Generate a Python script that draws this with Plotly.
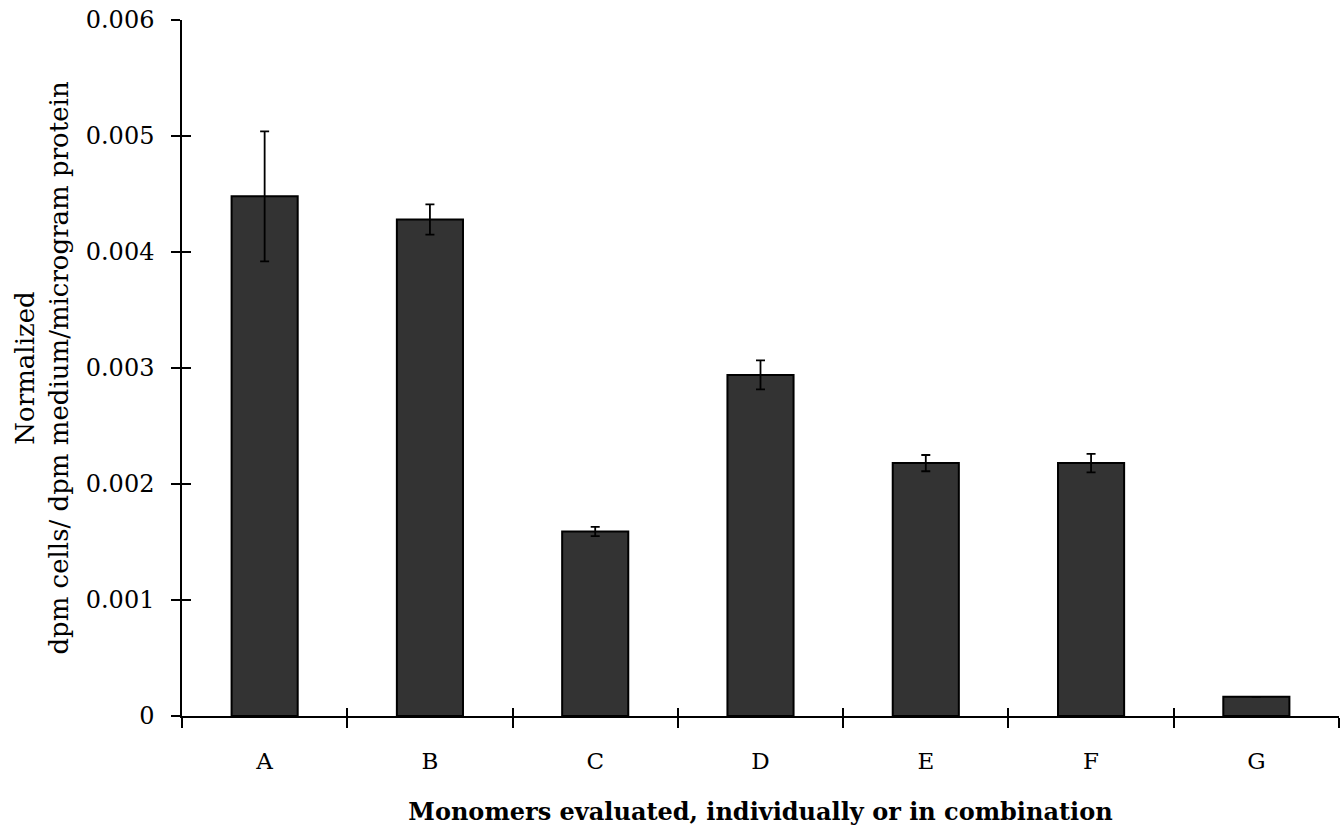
import plotly.graph_objects as go

categories = ["A", "B", "C", "D", "E", "F", "G"]
values = [0.00448, 0.00428, 0.00159, 0.00294, 0.00218, 0.00218, 0.000165]
errors = [0.00056, 0.00013, 0.00004, 0.000125, 0.00007, 0.00008, 0.0]

y_title = "Normalized<br>dpm cells/ dpm medium/microgram protein"
x_title = "<b>Monomers evaluated, individually or in combination</b>"

FONT = "DejaVu Serif"

fig = go.Figure()
fig.add_trace(go.Bar(
    x=categories, y=values, width=0.4,
    marker=dict(color="#333333", line=dict(color="black", width=2)),
    error_y=dict(type="data", array=errors, color="black", thickness=1.8, width=4.5),
    showlegend=False,
))
# invisible duplicate to drive the inward half of the crossing ticks
fig.add_trace(go.Bar(
    x=categories, y=values, width=0.4, xaxis="x2", yaxis="y2",
    marker=dict(color="rgba(0,0,0,0)", line=dict(width=0)),
    hoverinfo="skip", showlegend=False,
))

fig.update_layout(
    template="none",
    width=1342, height=830,
    margin=dict(l=182, r=3, t=20, b=114),
    paper_bgcolor="white", plot_bgcolor="white",
    font=dict(family=FONT, color="black", size=23),
    bargap=0.6,
    xaxis=dict(
        type="category", categoryorder="array", categoryarray=categories,
        range=[-0.5, 6.5], showline=True, linecolor="black", linewidth=1.5,
        ticks="outside", ticklen=10, tickwidth=1.5, tickcolor="black",
        tickson="boundaries", showgrid=False, zeroline=False,
        tickfont=dict(size=23), ticklabelstandoff=24,
        title=dict(text=x_title, font=dict(size=24), standoff=30),
    ),
    yaxis=dict(
        range=[0, 0.006], dtick=0.001, showline=True, linecolor="black", linewidth=1.5,
        ticks="outside", ticklen=9, tickwidth=1.5, tickcolor="black",
        showgrid=False, zeroline=False, tickfont=dict(size=24), ticklabelstandoff=12,
        title=dict(text=y_title, font=dict(size=26), standoff=10),
    ),
    xaxis2=dict(
        type="category", categoryorder="array", categoryarray=categories,
        range=[-0.5, 6.5], overlaying="x", side="bottom", showline=False,
        ticks="inside", ticklen=8, tickwidth=1.5, tickcolor="black",
        tickson="boundaries", showticklabels=False, showgrid=False, zeroline=False,
    ),
    yaxis2=dict(
        range=[0, 0.006], dtick=0.001, overlaying="y", side="left", showline=False,
        ticks="inside", ticklen=9, tickwidth=1.5, tickcolor="black",
        showticklabels=False, showgrid=False, zeroline=False,
    ),
)

fig.write_html("out.html", config={"displayModeBar": False},
               post_script="document.body.style.margin='0';")
